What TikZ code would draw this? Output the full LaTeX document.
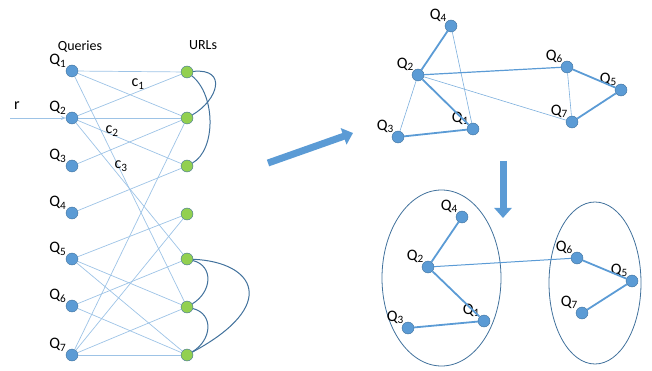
\documentclass[tikz,border=0pt]{standalone}
\usepackage{fontspec}
\setmainfont{Carlito}
\usepackage{tikz}
\usetikzlibrary{arrows.meta,positioning}
\definecolor{qblue}{HTML}{5B9BD5}
\definecolor{qdark}{HTML}{41719C}
\definecolor{ugreen}{HTML}{92D050}
\definecolor{qlight}{HTML}{9DC3E6}

\begin{document}
\begin{tikzpicture}[x=1pt,y=-1pt,
	qnode/.style={
		draw=qdark,
		circle,
		fill=qblue,
		inner sep=0pt,
		minimum size=12pt
	},
	unode/.style={qnode,fill=ugreen},
	lbl/.style={font=\fontsize{16}{16}\selectfont,inner sep=1pt},
	head/.style={font=\fontsize{14}{14}\selectfont},
	link/.style={qlight,line width=0.7pt},
	bond/.style={qblue,line width=1.8pt},
	weak/.style={qblue!80,line width=0.6pt},
	loop/.style={qdark,line width=1pt},
	ring/.style={qdark,line width=0.8pt},
	bigarrow/.style={qblue,line width=7pt,-{Triangle[length=10pt,width=17pt]}}
	]

	\useasboundingbox (0,0) rectangle (652,371);

	\node[head] (queries) at (80,47) {Queries};
	\node[head] (urls) at (203,45) {URLs};

	\foreach \i/\y in {1/71,2/118,3/166,4/213,5/259,6/306,7/355}
		\node[qnode,label={[lbl,label distance=-1pt]150:Q\textsubscript{\i}}] (q\i) at (72,\y) {};
	\foreach \i/\y in {1/72,2/118,3/166,4/214,5/259,6/307,7/355}
		\node[unode] (u\i) at (187,\y) {};

	\foreach \a/\b in {1/1,1/2,1/6,2/1,2/2,2/3,2/5,3/2,4/3,5/4,5/6,5/7,6/5,6/7,7/2,7/4,7/6,7/7}
		\draw[link] (q\a) -- (u\b);

	\coordinate (rin) at (10,118);
	\draw[link,-{Stealth[length=5pt,width=4pt]}] (rin) -- (q2);
	\node[lbl] (r) at (17,106) {r};

	\node[lbl] (c1) at (138,84) {c\textsubscript{1}};
	\node[lbl] (c2) at (112,131) {c\textsubscript{2}};
	\node[lbl] (c3) at (121,166) {c\textsubscript{3}};

	\draw[loop] (u1) .. controls (228,68) and (218,100) .. (u2);
	\draw[loop] (u1) .. controls (216,95) and (216,150) .. (u3);
	\draw[loop] (u5) .. controls (214,266) and (212,292) .. (u6);
	\draw[loop] (u6) .. controls (214,314) and (212,340) .. (u7);
	\draw[loop] (u5) .. controls (255,262) and (280,305) .. (u7);

	\coordinate (arr1s) at (268,163);
	\coordinate (arr1e) at (353,133);
	\draw[bigarrow] (arr1s) -- (arr1e);

	\node[qnode,label={[lbl,label distance=-2pt]135:Q\textsubscript{4}}] (a4) at (451,26) {};
	\node[qnode,label={[lbl,label distance=-2pt]135:Q\textsubscript{2}}] (a2) at (418,75) {};
	\node[qnode,label={[lbl,label distance=-2pt]135:Q\textsubscript{3}}] (a3) at (398,137) {};
	\node[qnode,label={[lbl,label distance=-2pt]135:Q\textsubscript{1}}] (a1) at (473,129) {};
	\node[qnode,label={[lbl,label distance=-2pt]135:Q\textsubscript{6}}] (a6) at (567,67) {};
	\node[qnode,label={[lbl,label distance=-2pt]135:Q\textsubscript{5}}] (a5) at (621,90) {};
	\node[qnode,label={[lbl,label distance=-2pt]135:Q\textsubscript{7}}] (a7) at (572,122) {};

	\draw[bond] (a2) -- (a4);
	\draw[bond] (a2) -- (a1);
	\draw[bond] (a3) -- (a1);
	\draw[weak] (a2) -- (a3);
	\draw[weak] (a4) -- (a1);
	\draw[qblue,line width=1.2pt] (a2) -- (a6);
	\draw[weak] (a2) -- (a7);
	\draw[bond] (a6) -- (a5);
	\draw[bond] (a5) -- (a7);
	\draw[weak] (a6) -- (a7);

	\coordinate (arr2s) at (503,161);
	\coordinate (arr2e) at (503,218);
	\draw[bigarrow] (arr2s) -- (arr2e);

	\draw[ring] (441.5,278) ellipse [x radius=59.5pt,y radius=88pt];
	\draw[ring] (595,283) ellipse [x radius=46pt,y radius=81pt];

	\node[qnode,label={[lbl,label distance=-2pt]135:Q\textsubscript{4}}] (b4) at (462,217) {};
	\node[qnode,label={[lbl,label distance=-2pt]135:Q\textsubscript{2}}] (b2) at (428,267) {};
	\node[qnode,label={[lbl,label distance=-2pt]135:Q\textsubscript{3}}] (b3) at (408,328) {};
	\node[qnode,label={[lbl,label distance=-2pt]135:Q\textsubscript{1}}] (b1) at (484,321) {};
	\node[qnode,label={[lbl,label distance=-2pt]135:Q\textsubscript{6}}] (b6) at (577,258) {};
	\node[qnode,label={[lbl,label distance=-2pt]135:Q\textsubscript{5}}] (b5) at (632,281) {};
	\node[qnode,label={[lbl,label distance=-2pt]135:Q\textsubscript{7}}] (b7) at (582,313) {};

	\draw[bond] (b2) -- (b4);
	\draw[bond] (b2) -- (b1);
	\draw[bond] (b3) -- (b1);
	\draw[qblue,line width=1pt] (b2) -- (b6);
	\draw[bond] (b6) -- (b5);
	\draw[bond] (b5) -- (b7);
\end{tikzpicture}
\end{document}
